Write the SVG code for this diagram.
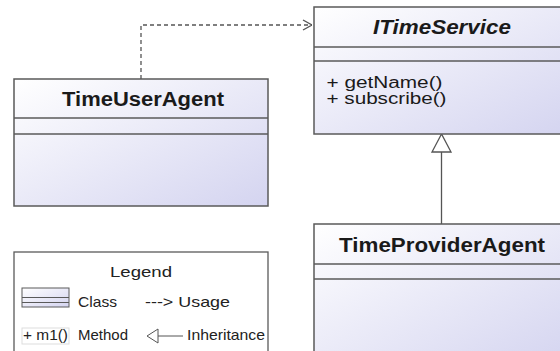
<svg xmlns="http://www.w3.org/2000/svg" width="560" height="351" viewBox="0 0 560 351">
  <style>
    .box { stroke: #5a5a5a; stroke-width: 1.5; }
    .sep { stroke: #5a5a5a; stroke-width: 1.5; fill: none; }
    .title { font-family: "Liberation Sans", Arial, sans-serif; font-weight: bold; font-size: 20px; fill: #1a1a1a; text-anchor: middle; }
    .member { font-family: "Liberation Sans", Arial, sans-serif; font-size: 16px; fill: #1a1a1a; }
    .legend { font-family: "Liberation Sans", Arial, sans-serif; font-size: 15px; fill: #222; }
    .edge { stroke: #555; stroke-width: 1.3; fill: none; }
  </style>
  <defs>
    <linearGradient id="classFill" x1="0" y1="0" x2="1" y2="1">
      <stop offset="0" stop-color="#ffffff"/>
      <stop offset="1" stop-color="#d4d4f0"/>
    </linearGradient>
    <marker id="openArrow" viewBox="0 0 10 12" refX="10" refY="6" markerWidth="10" markerHeight="12" markerUnits="userSpaceOnUse" orient="auto">
      <path d="M1,1 L10,6 L1,11" fill="none" stroke="#555" stroke-width="1.4"/>
    </marker>
  </defs>
  <rect width="560" height="351" fill="#ffffff"/>

  <!-- connectors -->
  <g id="connectors">
    <polyline class="edge" points="141,79 141,25 312,25" stroke-dasharray="4,3" marker-end="url(#openArrow)"/>
    <line class="edge" x1="441.5" y1="152" x2="441.5" y2="224"/>
    <polygon points="441.5,134 432,152 451,152" fill="#ffffff" stroke="#555" stroke-width="1.3"/>
  </g>

  <!-- TimeUserAgent class -->
  <g id="TimeUserAgent">
    <rect class="box" x="14" y="79" width="254" height="127" fill="url(#classFill)"/>
    <line class="sep" x1="14" y1="118" x2="268" y2="118"/>
    <line class="sep" x1="14" y1="134" x2="268" y2="134"/>
    <text class="title" x="143" y="106" textLength="162" lengthAdjust="spacingAndGlyphs">TimeUserAgent</text>
  </g>

  <!-- ITimeService interface -->
  <g id="ITimeService">
    <rect class="box" x="314" y="7" width="256" height="127" fill="url(#classFill)"/>
    <line class="sep" x1="314" y1="47" x2="570" y2="47"/>
    <line class="sep" x1="314" y1="61" x2="570" y2="61"/>
    <text class="title" x="442" y="34" font-style="italic" textLength="138" lengthAdjust="spacingAndGlyphs">ITimeService</text>
    <text class="member" x="326.5" y="87.5" textLength="116" lengthAdjust="spacingAndGlyphs">+ getName()</text>
    <text class="member" x="326.5" y="104" textLength="120" lengthAdjust="spacingAndGlyphs">+ subscribe()</text>
  </g>

  <!-- TimeProviderAgent class -->
  <g id="TimeProviderAgent">
    <rect class="box" x="314" y="224" width="256" height="140" fill="url(#classFill)"/>
    <line class="sep" x1="314" y1="264" x2="570" y2="264"/>
    <line class="sep" x1="314" y1="279" x2="570" y2="279"/>
    <text class="title" x="442" y="252" textLength="206" lengthAdjust="spacingAndGlyphs">TimeProviderAgent</text>
  </g>

  <!-- Legend -->
  <g id="Legend">
    <rect x="14" y="252" width="254" height="110" fill="#ffffff" stroke="#5a5a5a" stroke-width="1.3"/>
    <text class="legend" x="141" y="277" font-size="17px" text-anchor="middle" textLength="62" lengthAdjust="spacingAndGlyphs">Legend</text>
    <rect x="22" y="288" width="47" height="19" fill="url(#classFill)" stroke="#5a5a5a" stroke-width="1"/>
    <line x1="22" y1="297.5" x2="69" y2="297.5" stroke="#5a5a5a" stroke-width="1"/>
    <line x1="22" y1="302.5" x2="69" y2="302.5" stroke="#5a5a5a" stroke-width="1"/>
    <text class="legend" x="78" y="307" textLength="39" lengthAdjust="spacingAndGlyphs">Class</text>
    <text class="legend" x="145" y="307" textLength="85" lengthAdjust="spacingAndGlyphs">---&gt; Usage</text>
    <rect x="22" y="328" width="47" height="16" fill="#ffffff" stroke="#dddddd" stroke-width="1"/>
    <text class="legend" x="23" y="340" textLength="45" lengthAdjust="spacingAndGlyphs">+ m1()</text>
    <text class="legend" x="78" y="340" textLength="50" lengthAdjust="spacingAndGlyphs">Method</text>
    <polygon points="147,336 158,329 158,343" fill="#ffffff" stroke="#555" stroke-width="1"/>
    <line x1="158" y1="336" x2="183" y2="336" stroke="#555" stroke-width="1"/>
    <text class="legend" x="187" y="340" textLength="78" lengthAdjust="spacingAndGlyphs">Inheritance</text>
  </g>
</svg>
